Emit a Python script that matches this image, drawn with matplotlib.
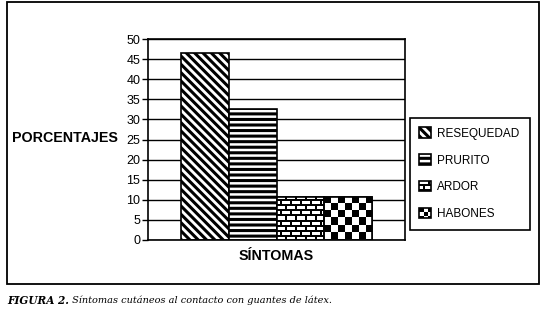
import numpy as np
import matplotlib
matplotlib.use("Agg")
import matplotlib.pyplot as plt
from matplotlib.patches import Rectangle
from matplotlib.legend_handler import HandlerBase

# Data
categories = ["RESEQUEDAD", "PRURITO", "ARDOR", "HABONES"]
values = [46.5, 32.5, 10.8, 10.8]
y_ticks = list(range(0, 55, 5))
y_label = "PORCENTAJES"
x_label = "SÍNTOMAS"
caption_bold = "FIGURA 2."
caption_text = " Síntomas cutáneos al contacto con guantes de látex."

# Fill style of each bar: a hatch string or a pixel pattern
hatches = ["\\\\\\\\", "---", None, None]
pixel_patterns = [None, None, "brick", "checker"]

plt.rcParams["font.family"] = ["Liberation Sans", "DejaVu Sans"]
plt.rcParams["hatch.linewidth"] = 2.2
plt.rcParams["hatch.color"] = "black"


def pattern_pixels(kind: str, width: int, height: int, cell: int) -> np.ndarray:
    """Boolean mask (True = black) of a brick or checker pattern."""
    yy, xx = np.mgrid[0:height, 0:width]
    if kind == "brick":
        row = yy // cell
        shift = (row % 2) * cell
        black = (yy % cell >= cell - 2) | ((xx + shift) % (2 * cell) >= 2 * cell - 2)
    else:
        black = ((xx // cell) + (yy // cell)) % 2 == 0
    return black


class PixelIconHandler(HandlerBase):
    """Legend icon drawn from a small pixel pattern."""

    def __init__(self, kind: str, cell: int):
        super().__init__()
        self.kind = kind
        self.cell = cell

    def create_artists(self, legend, orig_handle, xdescent, ydescent,
                       width, height, fontsize, trans):
        n = 11
        mask = pattern_pixels(self.kind, n, n, self.cell)
        cw, ch = width / n, height / n
        artists = [Rectangle((-xdescent, -ydescent), width, height,
                             facecolor="white", edgecolor="none", transform=trans)]
        for r, c in zip(*np.nonzero(mask)):
            artists.append(Rectangle((-xdescent + c * cw, -ydescent + height - (r + 1) * ch),
                                     cw, ch, facecolor="black", edgecolor="none",
                                     transform=trans))
        artists.append(Rectangle((-xdescent, -ydescent), width, height,
                                 facecolor="none", edgecolor="black", lw=1.2,
                                 transform=trans))
        return artists


fig = plt.figure(figsize=(5.44, 3.13), dpi=100)
ax = fig.add_axes([148 / 544, 73 / 313, 257 / 544, 201 / 313])

x = np.arange(len(categories)) - (len(categories) - 1) / 2
ax.set_xlim(-2.705, 2.705)
ax.set_ylim(0, 50)

bars = ax.bar(x, values, width=1.0, facecolor="white", edgecolor="black",
              linewidth=1.2, zorder=2)
for bar, hatch in zip(bars, hatches):
    if hatch:
        bar.set_hatch(hatch)

# Brick and checker fills are drawn as images clipped to their bars
for bar, kind in zip(bars, pixel_patterns):
    if kind is None:
        continue
    ext = bar.get_window_extent()
    w_px, h_px = int(round(ext.width)), int(round(ext.height))
    cell = 5 if kind == "brick" else 7
    mask = pattern_pixels(kind, w_px, h_px, cell)
    im = ax.imshow(np.where(mask, 0.0, 1.0), cmap="gray", vmin=0, vmax=1,
                   extent=(bar.get_x(), bar.get_x() + bar.get_width(), 0, bar.get_height()),
                   aspect="auto", interpolation="nearest", zorder=2.5)
    im.set_clip_path(bar)
    outline = Rectangle((bar.get_x(), 0), bar.get_width(), bar.get_height(),
                        facecolor="none", edgecolor="black", linewidth=1.2, zorder=3)
    ax.add_patch(outline)

ax.set_xlim(-2.705, 2.705)
ax.set_ylim(0, 50)
ax.set_yticks(y_ticks)
ax.set_xticks([])
ax.tick_params(axis="y", length=4, width=1, pad=1.5, labelsize=9, colors="black")
ax.yaxis.grid(True, color="black", linewidth=1)
ax.set_axisbelow(True)
for spine in ax.spines.values():
    spine.set_color("black")
    spine.set_linewidth(1.2)

ax.set_ylabel(y_label, rotation=0, ha="left", va="center", fontsize=10.3,
              fontweight="bold")
ax.yaxis.set_label_coords((12 - 148) / 257, (240 - 138) / 201)
ax.set_xlabel(x_label, ha="center", va="center", fontsize=10.3, fontweight="bold")
ax.xaxis.set_label_coords(0.5, (240 - 256) / 201)

handler_map = {
    bars[2]: PixelIconHandler("brick", 5),
    bars[3]: PixelIconHandler("checker", 4),
}
leg = fig.legend(list(bars), categories, handler_map=handler_map,
                 loc="upper left",
                 bbox_to_anchor=(410 / 544, (313 - 232) / 313, 120 / 544, 114 / 313),
                 mode="expand", borderaxespad=0, fontsize=8.5,
                 handlelength=0.95, handleheight=0.95, handletextpad=0.5,
                 labelspacing=1.25, borderpad=0.8, fancybox=False,
                 edgecolor="black", framealpha=1)
leg.get_frame().set_linewidth(1.2)

# Outer frame around the chart
fig.add_artist(Rectangle((7 / 544, 1 - 284 / 313), 532 / 544, 282 / 313,
                         transform=fig.transFigure, fill=False,
                         edgecolor="black", linewidth=1.3))

# Caption below the frame
cap_y = 1 - 300 / 313
t1 = fig.text(7 / 544, cap_y, caption_bold, ha="left", va="center",
              family="DejaVu Serif", style="italic", fontweight="bold", fontsize=7.6)
renderer = fig.canvas.get_renderer()
bb = t1.get_window_extent(renderer)
fig.text(bb.x1 / fig.bbox.width, cap_y, caption_text, ha="left", va="center",
         family="DejaVu Serif", style="italic", fontsize=7)

fig.savefig("out.png", dpi=100)
